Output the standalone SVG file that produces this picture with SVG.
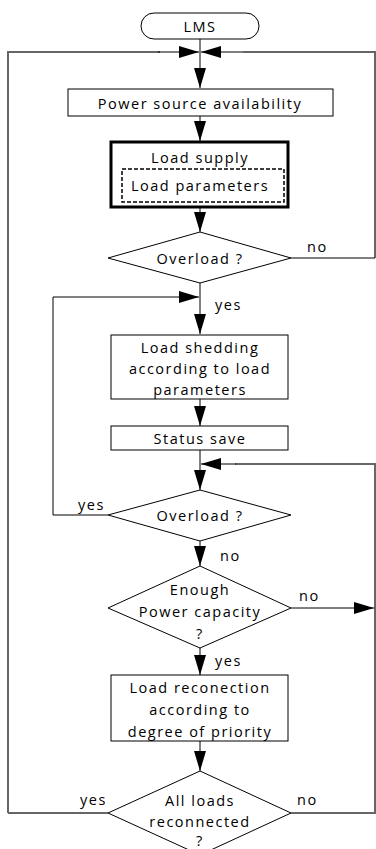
<svg xmlns="http://www.w3.org/2000/svg" width="376" height="849" viewBox="0 0 376 849">
<defs>
<style>
text{font-family:"Open Sans","Liberation Sans",sans-serif;font-size:14.5px;letter-spacing:1.5px;fill:#000;text-anchor:middle;dominant-baseline:central}
.lbl{text-anchor:start}
.box{fill:#fff;stroke:#000;stroke-width:1}
.ln{fill:none;stroke:#000;stroke-width:1}
.outer{fill:none;stroke:#666;stroke-width:2}
</style>
<marker id="ah" viewBox="0 0 20 12" refX="20" refY="6" markerWidth="20" markerHeight="12" markerUnits="userSpaceOnUse" orient="auto">
<path d="M0,0 L20,6 L0,12 Z" fill="#000"/>
</marker>
</defs>
<rect width="376" height="849" fill="#fff"/>
<g id="connectors">
<line class="ln" x1="200" y1="39" x2="200" y2="88" marker-end="url(#ah)"/>
<polyline class="outer" points="8,813 8,52 160,52"/>
<line class="ln" x1="158" y1="52" x2="199" y2="52" marker-end="url(#ah)"/>
<polyline class="outer" points="375,258 375,52 243,52"/>
<line class="ln" x1="243" y1="52" x2="201" y2="52" marker-end="url(#ah)"/>
<line class="ln" x1="200" y1="116" x2="200" y2="141" marker-end="url(#ah)"/>
<line class="ln" x1="200" y1="207" x2="200" y2="232" marker-end="url(#ah)"/>
<line class="ln" x1="291" y1="258" x2="375" y2="258"/>
<line class="ln" x1="200" y1="283" x2="200" y2="334" marker-end="url(#ah)"/>
<polyline class="ln" points="108,515 53,515 53,297 199,297" marker-end="url(#ah)"/>
<line class="ln" x1="200" y1="399" x2="200" y2="426" marker-end="url(#ah)"/>
<line class="ln" x1="200" y1="450" x2="200" y2="490" marker-end="url(#ah)"/>
<polyline class="outer" points="291,813 375,813 375,464 235,464"/>
<line class="ln" x1="236" y1="464" x2="201" y2="464" marker-end="url(#ah)"/>
<line class="ln" x1="200" y1="541" x2="200" y2="566" marker-end="url(#ah)"/>
<line class="ln" x1="291" y1="608" x2="374" y2="608" marker-end="url(#ah)"/>
<line class="ln" x1="200" y1="648" x2="200" y2="675" marker-end="url(#ah)"/>
<line class="ln" x1="200" y1="741" x2="200" y2="771" marker-end="url(#ah)"/>
<line class="outer" x1="8" y1="813" x2="108" y2="813"/>
<text class="lbl" x="307" y="246">no</text>
<text class="lbl" x="215" y="304">yes</text>
<text class="lbl" x="78" y="504">yes</text>
<text class="lbl" x="220" y="555">no</text>
<text class="lbl" x="299" y="595">no</text>
<text class="lbl" x="215" y="660">yes</text>
<text class="lbl" x="80" y="799">yes</text>
<text class="lbl" x="297" y="799">no</text>
</g>
<g id="lms">
<rect class="box" x="141" y="13" width="118" height="26" rx="13"/>
<text x="200" y="26">LMS</text>
</g>
<g id="power">
<rect class="box" x="68" y="89" width="265" height="27"/>
<text x="200" y="103">Power source availability</text>
</g>
<g id="loadsupply">
<rect x="111" y="142" width="177" height="65" fill="#fff" stroke="#000" stroke-width="3"/>
<text x="200" y="157">Load supply</text>
<rect x="122" y="169" width="162" height="33" fill="none" stroke="#000" stroke-width="1.5" stroke-dasharray="4,2"/>
<text x="200" y="185">Load parameters</text>
</g>
<g id="overload1">
<polygon class="box" points="200,232 291,258 200,283 108,258"/>
<text x="200" y="258">Overload ?</text>
</g>
<g id="shedding">
<rect class="box" x="111" y="335" width="177" height="64"/>
<text x="200" y="347">Load shedding</text>
<text x="200" y="368">according to load</text>
<text x="200" y="389">parameters</text>
</g>
<g id="status">
<rect class="box" x="111" y="426" width="177" height="24"/>
<text x="200" y="438">Status save</text>
</g>
<g id="overload2">
<polygon class="box" points="200,490 291,515 200,541 108,515"/>
<text x="200" y="515">Overload ?</text>
</g>
<g id="enough">
<polygon class="box" points="200,566 291,608 200,648 108,608"/>
<text x="200" y="589">Enough</text>
<text x="200" y="611">Power capacity</text>
<text x="200" y="633">?</text>
</g>
<g id="reconnection">
<rect class="box" x="111" y="675" width="177" height="66"/>
<text x="200" y="687">Load reconection</text>
<text x="200" y="709">according to</text>
<text x="200" y="731">degree of priority</text>
</g>
<g id="allloads">
<polygon class="box" points="200,771 291,813 200,855 108,813"/>
<text x="200" y="800">All loads</text>
<text x="200" y="821">reconnected</text>
<text x="200" y="840">?</text>
</g>
</svg>
